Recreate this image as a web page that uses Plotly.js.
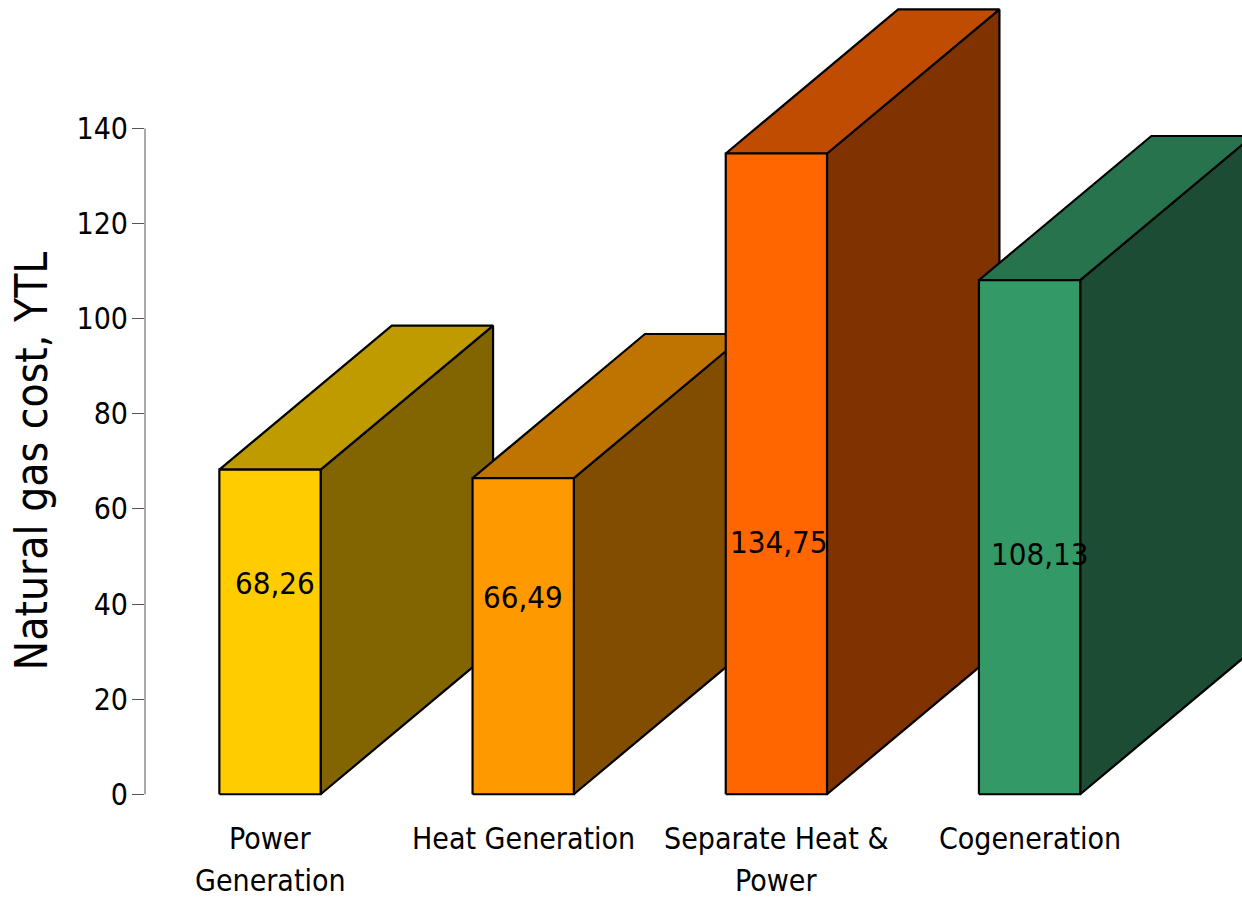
<!DOCTYPE html>
<html>
<head>
<meta charset="utf-8">
<script src="https://cdn.plot.ly/plotly-3.0.1.min.js"></script>
<style>
  html, body { margin: 0; padding: 0; background: #ffffff; }
  #chart { width: 1242px; height: 900px; }
</style>
</head>
<body>
<div id="chart"></div>
<script>
// Natural gas cost per generation scheme (YTL)
const categories = ['Power\nGeneration', 'Heat Generation', 'Separate Heat &\nPower', 'Cogeneration'];
const costs = [68.26, 66.49, 134.75, 108.13];

// Face colours: front, top, side
const frontColors = ['#FFCC00', '#FF9900', '#FF6600', '#339966'];
const topColors = ['#C09B00', '#BF7300', '#BF4C00', '#26734D'];
const sideColors = ['#826500', '#834D00', '#803300', '#1C4D34'];

const yTicks = [0, 20, 40, 60, 80, 100, 120, 140];

// Box geometry in axis units
const barWidth = 0.4;
const depthX = 0.681;
const depthY = 30.3;

// Value label anchor per bar (x offset from category centre, y in axis units)
const labelAnchors = [[0.02, 44.4], [0.0, 41.4], [0.011, 53.0], [0.04, 50.5]];

const FONT = '"DejaVu Sans Condensed", "DejaVu Sans", sans-serif';

const traces = [];
function face(xs, ys, color) {
  traces.push({
    type: 'scatter', mode: 'lines', fill: 'toself',
    x: xs.concat([xs[0]]), y: ys.concat([ys[0]]),
    fillcolor: color,
    line: { color: '#000000', width: 2.2 },
    hoverinfo: 'skip', showlegend: false
  });
}

costs.forEach((v, i) => {
  const xl = i - barWidth / 2, xr = i + barWidth / 2;
  // right side face
  face([xr, xr, xr + depthX, xr + depthX], [0, v, v + depthY, depthY], sideColors[i]);
  // top face
  face([xl, xr, xr + depthX, xl + depthX], [v, v, v + depthY, v + depthY], topColors[i]);
  // front face
  face([xl, xr, xr, xl], [0, 0, v, v], frontColors[i]);
});

const annotations = [];
costs.forEach((v, i) => {
  annotations.push({
    x: i + labelAnchors[i][0], y: labelAnchors[i][1], xref: 'x', yref: 'y',
    text: v.toFixed(2).replace('.', ','), showarrow: false,
    font: { family: FONT, size: 31, color: '#000000' },
    xanchor: 'center', yanchor: 'middle'
  });
});

// Category names under the bars, one annotation per line
categories.forEach((c, i) => {
  c.split('\n').forEach((line, k) => {
    annotations.push({
      x: i, xref: 'x', y: 0, yref: 'paper', yshift: -39 - 42 * k,
      text: line, showarrow: false,
      font: { family: FONT, size: 30, color: '#000000' },
      xanchor: 'center', yanchor: 'middle'
    });
  });
});

// Y axis title
annotations.push({
  x: 0, xref: 'paper', xshift: -114, y: 70, yref: 'y',
  text: 'Natural gas cost, YTL', textangle: -90, showarrow: false,
  font: { family: FONT, size: 44, color: '#000000' },
  xanchor: 'center', yanchor: 'middle'
});

const layout = {
  width: 1242, height: 900,
  margin: { l: 145, r: 0, t: 0, b: 101, pad: 0 },
  paper_bgcolor: '#ffffff', plot_bgcolor: 'rgba(0,0,0,0)',
  showlegend: false,
  xaxis: {
    range: [-0.4937, 3.839], showgrid: false, zeroline: false,
    showline: false, showticklabels: false, ticks: '', fixedrange: true
  },
  yaxis: {
    range: [-1, 167.03], showgrid: false, zeroline: false, showline: false,
    tickmode: 'array', tickvals: yTicks, ticktext: yTicks.map(String),
    ticks: 'outside', ticklen: 12, tickwidth: 1, tickcolor: '#555555',
    ticklabelstandoff: -2,
    tickfont: { family: FONT, size: 30, color: '#000000' },
    fixedrange: true
  },
  shapes: [{
    type: 'line', xref: 'paper', yref: 'y', x0: 0, x1: 0, y0: 0, y1: 140,
    line: { color: '#555555', width: 1 }
  }],
  annotations: annotations
};

Plotly.newPlot('chart', traces, layout, { staticPlot: true, displayModeBar: false });
</script>
</body>
</html>
